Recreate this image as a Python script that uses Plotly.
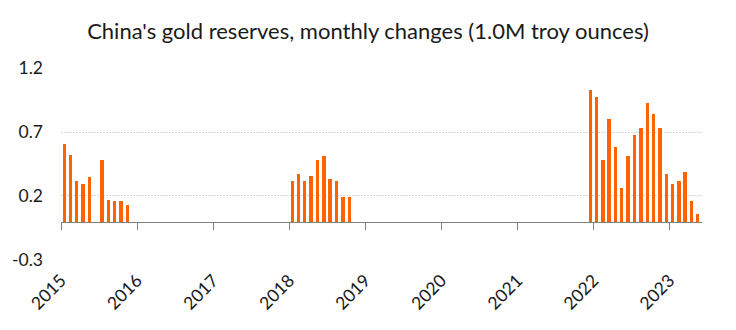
import plotly.graph_objects as go

months = [
    "2015-01", "2015-02", "2015-03", "2015-04", "2015-05",
    "2015-07", "2015-08", "2015-09", "2015-10", "2015-11",
    "2018-01", "2018-02", "2018-03", "2018-04", "2018-05",
    "2018-06", "2018-07", "2018-08", "2018-09", "2018-10",
    "2021-12", "2022-01", "2022-02", "2022-03", "2022-04", "2022-05",
    "2022-06", "2022-07", "2022-08", "2022-09", "2022-10", "2022-11",
    "2022-12", "2023-01", "2023-02", "2023-03", "2023-04", "2023-05",
]
changes = [
    0.61, 0.52, 0.32, 0.29, 0.35,
    0.48, 0.17, 0.16, 0.16, 0.13,
    0.32, 0.375, 0.32, 0.36, 0.48,
    0.51, 0.33, 0.32, 0.19, 0.19,
    1.03, 0.97, 0.48, 0.80, 0.58, 0.26,
    0.51, 0.68, 0.73, 0.93, 0.84, 0.73,
    0.375, 0.29, 0.32, 0.39, 0.16, 0.06,
]
y_ticks = [-0.3, 0.2, 0.7, 1.2]
y_ticktext = ["-0.3", "0.2", "0.7", "1.2"]
title_text = "China's gold reserves, monthly changes (1.0M troy ounces)"

x_dates = [m + "-01" for m in months]
x_range = ["2015-01-01", "2023-06-06"]
FONT = "Lato"
ORANGE = "#ff6200"
TXT = "#1a1a1a"

fig = go.Figure()
fig.add_trace(go.Bar(
    x=x_dates, y=changes,
    xperiod="M1", xperiodalignment="middle",
    width=0.54 * 30.44 * 86400000,
    marker=dict(color=ORANGE, line=dict(width=0)),
    xaxis="x", yaxis="y", showlegend=False,
))
# invisible trace to carry the bottom label axis
fig.add_trace(go.Scatter(
    x=[x_dates[0]], y=[0], mode="markers",
    marker=dict(opacity=0), xaxis="x2", yaxis="y",
    showlegend=False, hoverinfo="skip",
))

fig.update_layout(
    width=736, height=330,
    margin=dict(l=61, r=34, t=68, b=70),
    paper_bgcolor="white", plot_bgcolor="white",
    font=dict(family=FONT, size=17, color=TXT),
    title=dict(text=title_text, x=0.5, xanchor="center", y=0.905, yanchor="middle",
               font=dict(family=FONT, size=22, color=TXT)),
    bargap=0,
    xaxis=dict(
        type="date", range=x_range,
        anchor="free", position=0.2,
        showline=True, linecolor="#808080", linewidth=1,
        ticks="outside", ticklen=7, tickwidth=1, tickcolor="#808080",
        dtick="M12", tick0="2015-01-01",
        showticklabels=False, showgrid=False, zeroline=False,
    ),
    xaxis2=dict(
        type="date", range=x_range, overlaying="x", side="bottom", anchor="y",
        dtick="M12", tick0="2015-01-01", tickformat="%Y",
        tickangle=-45, ticks="", showline=False, showgrid=False, zeroline=False,
        tickfont=dict(family=FONT, size=17.5, color=TXT),
        ticklabelstandoff=6,
    ),
    yaxis=dict(
        range=[-0.3005, 1.2005],
        tickvals=y_ticks, ticktext=y_ticktext,
        showgrid=True, gridcolor="#d6d6d6", gridwidth=1, griddash="2px,1px",
        zeroline=False, showline=False, ticks="",
        tickfont=dict(family=FONT, size=17.5, color=TXT),
        ticklabelstandoff=17,
    ),
)

fig.write_html("out.html")
